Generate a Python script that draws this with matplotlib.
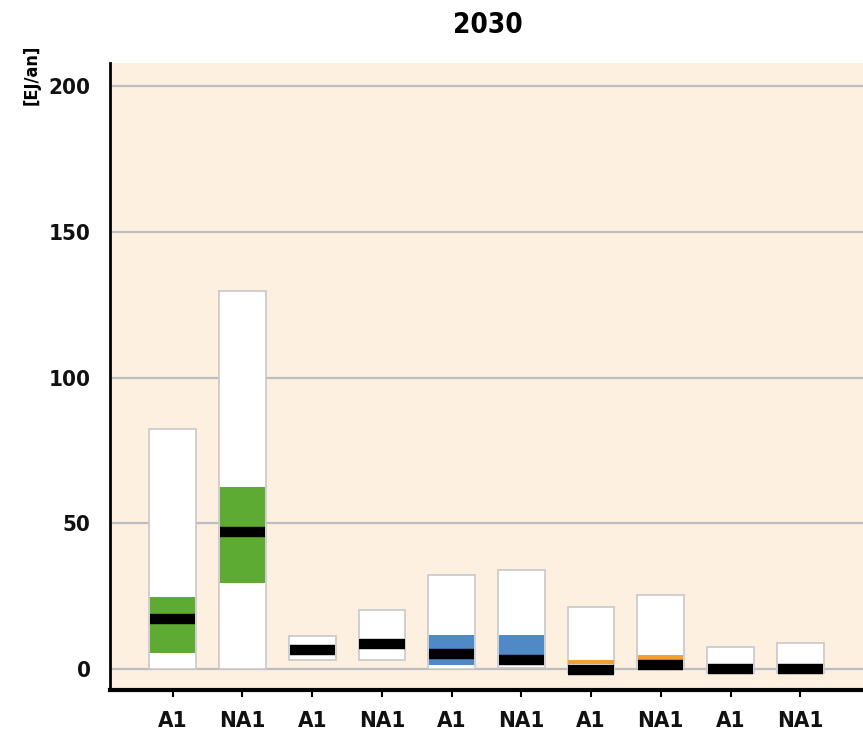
import matplotlib
matplotlib.use("Agg")
import matplotlib.pyplot as plt
import numpy as np

plt.rcParams['font.family'] = ['DejaVu Sans']
plt.rcParams['font.stretch'] = 'condensed'

categories = ["A1", "NA1", "A1", "NA1", "A1", "NA1", "A1", "NA1", "A1", "NA1"]
box_min = [0.0, 0.0, 3.1, 3.1, 0.0, 0.5, -1.4, 0.3, -1.4, -1.4]
box_max = [82.3, 129.7, 11.3, 20.2, 32.2, 34.0, 21.3, 25.4, 7.5, 9.0]
q_low = [5.5, 29.5, 5.0, 7.0, 1.4, 1.4, 1.8, 2.0, -0.5, -0.5]
q_high = [24.7, 62.4, 8.0, 10.5, 11.7, 11.7, 3.0, 4.8, 0.5, 0.5]
median = [17.2, 47.0, 6.5, 8.7, 5.0, 3.1, -0.2, 1.4, 0.0, 0.0]
band_colors = ["#5DAB32", "#5DAB32", "#FFFFFF", "#FFFFFF", "#5089C8", "#5089C8",
               "#F2A030", "#F2A030", "#FFFFFF", "#FFFFFF"]
yticks = [0, 50, 100, 150, 200]

fig = plt.figure(figsize=(8.63, 7.36), dpi=100)
ax = fig.add_axes([110/863, 1-690/736, 753/863, (690-63)/736])
ax.set_facecolor("#FDF0E1")

x = np.arange(len(categories))
w = 0.67
for yv in yticks:
    ax.axhline(yv, color="#BDBDBD", lw=1.6, zorder=1)

ax.bar(x, np.array(box_max) - np.array(box_min), bottom=box_min, width=w,
       color="white", edgecolor="#C8C8C8", linewidth=1.2, zorder=2)
ax.bar(x, np.array(q_high) - np.array(q_low), bottom=q_low, width=w - 0.02,
       color=band_colors, linewidth=0, zorder=3)
ax.hlines(median, x - w/2 + 0.01, x + w/2 - 0.01, color="black", lw=7.5, zorder=4)

ax.set_xlim(-0.9, 9.9)
ax.set_ylim(-7.2, 207.9)
ax.set_yticks(yticks)
ax.set_xticks(x)
ax.set_xticklabels(categories)
ax.tick_params(axis='y', length=0, pad=14, labelsize=16)
ax.tick_params(axis='x', length=5, width=1.5, direction='out', pad=10, labelsize=16)
for lab in ax.get_xticklabels() + ax.get_yticklabels():
    lab.set_fontweight("bold")
    lab.set_color("#111111")
for s in ["top", "right"]:
    ax.spines[s].set_visible(False)
ax.spines["left"].set_linewidth(2)
ax.spines["bottom"].set_linewidth(3)

fig.text(488/863, 1-25/736, "2030", ha="center", va="center", fontsize=20, fontweight="bold")
fig.text(32/863, 1-75/736, "[EJ/an]", rotation=90, ha="center", va="center",
         fontsize=13, fontweight="bold")

fig.savefig("out.png", dpi=100, facecolor="white")
